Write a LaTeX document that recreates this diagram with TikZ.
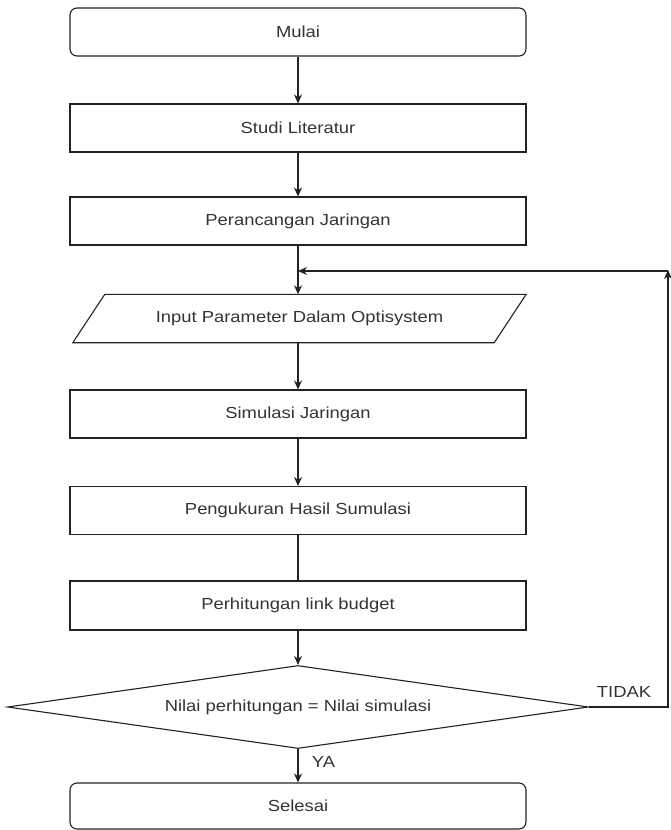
\documentclass[tikz,border=0pt]{standalone}
\usepackage{fontspec}
\setmainfont{Liberation Sans}[FakeStretch=1.15]
\usetikzlibrary{arrows.meta,shapes.geometric}
\definecolor{txt}{HTML}{333333}
\definecolor{ln}{HTML}{222222}
\begin{document}
\begin{tikzpicture}[x=1pt,y=-1pt,
  font=\fontsize{16}{19}\selectfont, text=txt,
  box/.style={draw=ln, line width=1.1pt, minimum width=456pt, minimum height=48pt, inner sep=0pt},
  term/.style={box, rounded corners=7pt},
  arr/.style={draw=ln, line width=1.1pt, -{Stealth[length=9pt,width=8pt]}},
  ln/.style={draw=ln, line width=1.1pt}]
\useasboundingbox (0,0) rectangle (670,830);
\node[term] (mulai) at (298,32) {Mulai};
\node[box] (studi) at (298,128) {Studi Literatur};
\node[box] (peran) at (298,221) {Perancangan Jaringan};
\node[minimum width=453pt, minimum height=48pt, inner sep=0pt] (input) at (299.5,318.5) {Input Parameter Dalam Optisystem};
\draw[ln] ([xshift=32pt]input.north west) -- (input.north east) -- ([xshift=-32pt]input.south east) -- (input.south west) -- cycle;
\node[box] (sim) at (298,414) {Simulasi Jaringan};
\node[box] (peng) at (298,510.5) {Pengukuran Hasil Sumulasi};
\node[box, minimum height=49pt] (perh) at (298,605.5) {Perhitungan link budget};
\node[diamond, draw=ln, line width=1.1pt, minimum width=581pt, minimum height=83pt, aspect=7, inner sep=0pt] (dec) at (298,707) {Nilai perhitungan = Nilai simulasi};
\node[term, minimum height=46pt] (sel) at (298,806) {Selesai};

\coordinate (c1) at (668,707);
\coordinate (c2) at (668,271);
\coordinate (j) at (298,271);

\draw[arr] (mulai) -- (studi);
\draw[arr] (studi) -- (peran);
\draw[arr] (peran.south) -- (input.north -| peran.south);
\draw[arr] (input.south -| sim.north) -- (sim.north);
\draw[arr] (sim) -- (peng);
\draw[ln] (peng) -- (perh);
\draw[arr] (perh) -- (dec);
\draw[arr] (dec) -- node[right=10pt, pos=0.4] {YA} (sel);
\draw[ln] (dec.east) -- (c1) -- (c2);
\draw[arr, shorten >=-1pt] ([yshift=0pt]c2) ++(0,4) -- (c2);
\draw[arr] (c2) -- (j);
\node[anchor=south] (tidak) at (624,701) {TIDAK};
\end{tikzpicture}
\end{document}
